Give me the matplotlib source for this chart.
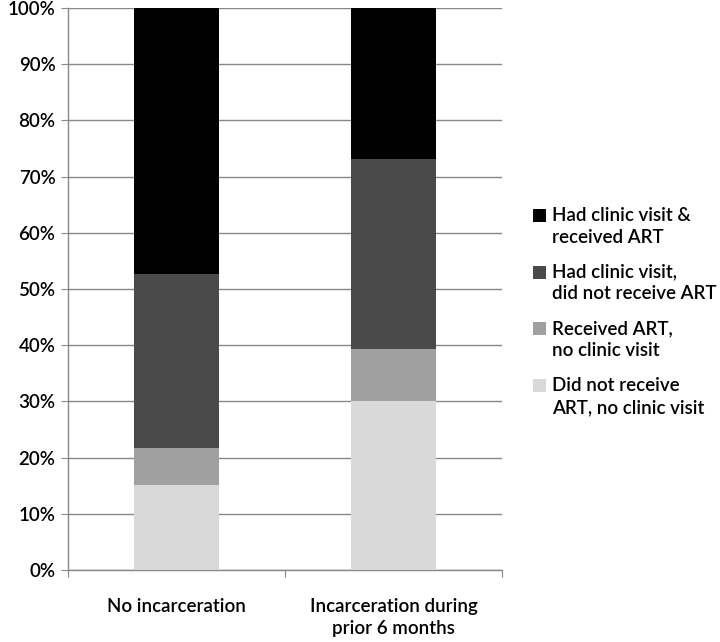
import numpy as np
import matplotlib
matplotlib.use('Agg')
import matplotlib.pyplot as plt
from matplotlib.patches import Patch, Rectangle
from matplotlib.legend_handler import HandlerPatch

groups = ['No incarceration', 'Incarceration during\nprior 6 months']
series = ['Did not receive\nART, no clinic visit',
          'Received ART,\nno clinic visit',
          'Had clinic visit,\ndid not receive ART',
          'Had clinic visit &\nreceived ART']
no_visit_no_art = [15.2, 30.0]
art_no_visit = [6.5, 9.3]
visit_no_art = [31.0, 33.8]
visit_and_art = [47.3, 26.9]

COLORS = ['#d9d9d9', '#a0a0a0', '#4a4a4a', '#000000']
GRID = '#888888'
FONT = 'Lato'
FS = 13.5

plt.rcParams['font.family'] = [FONT, 'DejaVu Sans']
plt.rcParams['font.weight'] = 'semibold'

fig = plt.figure(figsize=(7.2, 6.42), dpi=100)
ax = fig.add_axes([0.0944, 0.1121, 0.6028, 0.8754])

x = np.arange(len(groups))
bottom = np.zeros(len(groups))
values = [no_visit_no_art, art_no_visit, visit_no_art, visit_and_art]
for vals, col in zip(values, COLORS):
    ax.bar(x, vals, width=0.39, bottom=bottom, color=col, zorder=3)
    bottom += np.array(vals)

ax.set_xlim(-0.5, 1.5)
ax.set_ylim(0, 100)
ax.set_yticks(np.arange(0, 101, 10))
ax.set_yticklabels([f'{v}%' for v in range(0, 101, 10)],
                   fontsize=FS, color='black')
ax.yaxis.grid(True, color=GRID, linewidth=1.0, zorder=0)
ax.set_axisbelow(True)

ax.set_xticks([-0.5, 0.5, 1.5])
ax.set_xticklabels([])
ax.set_xticks(x, minor=True)
ax.set_xticklabels(groups, minor=True, fontsize=FS, color='black',
                   linespacing=1.35)
ax.tick_params(axis='x', which='minor', length=0, pad=20)
ax.tick_params(axis='x', which='major', length=5, color=GRID, direction='out')
ax.tick_params(axis='y', length=5, color=GRID, direction='out', pad=4)

for s in ['top', 'right']:
    ax.spines[s].set_visible(False)
for s in ['left', 'bottom']:
    ax.spines[s].set_color(GRID)
    ax.spines[s].set_linewidth(1.0)


# legend squares sit next to the first line of each label
def top_square(legend, orig_handle, xdescent, ydescent, width, height, fontsize):
    return Rectangle((-xdescent, -ydescent + 0.6 * fontsize), width, height)


handles = [Patch(facecolor=c, edgecolor='none') for c in COLORS]
leg = fig.legend(handles[::-1], series[::-1], loc='center left',
                 bbox_to_anchor=(0.740, 0.515), frameon=False, fontsize=FS,
                 handlelength=0.7, handleheight=0.7, handletextpad=0.3,
                 labelspacing=0.95, borderpad=0, borderaxespad=0,
                 handler_map={Patch: HandlerPatch(patch_func=top_square)})
for t in leg.get_texts():
    t.set_linespacing(1.35)

fig.savefig('out.png', dpi=100, facecolor='white')
